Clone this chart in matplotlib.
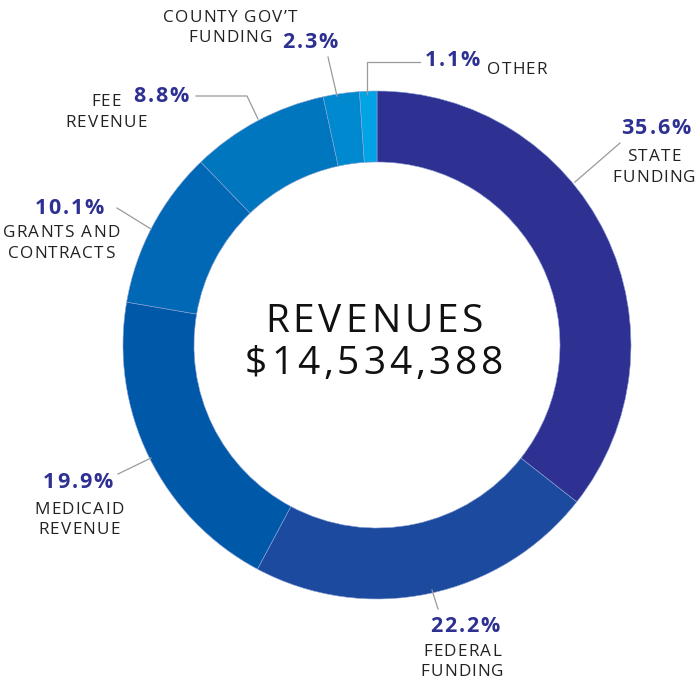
import matplotlib.pyplot as plt

labels = ["STATE\nFUNDING", "FEDERAL\nFUNDING", "MEDICAID\nREVENUE", "GRANTS AND\nCONTRACTS",
          "FEE\nREVENUE", "COUNTY GOV\u2019T\nFUNDING", "OTHER"]
shares = [35.6, 22.2, 19.9, 10.1, 8.8, 2.3, 1.1]
colors = ["#2E3192", "#1B4A9E", "#0058A9", "#0068B5", "#0076BF", "#0089CF", "#00A3E4"]
title = "REVENUES"
total = "$14,534,388"

W, H = 697, 683
fig = plt.figure(figsize=(W / 100, H / 100), dpi=100)
ax = fig.add_axes([0, 0, 1, 1])

def Y(py):
    return H - py

ax.pie(shares, colors=colors, startangle=90, counterclock=False,
       radius=254, center=(377, Y(345)), frame=True,
       wedgeprops=dict(width=71, linewidth=0.4, edgecolor='#8fa3d6'))
ax.set_xlim(0, W)
ax.set_ylim(0, H)
ax.set_aspect('equal')
ax.axis('off')

FONT = 'Open Sans'
renderer = fig.canvas.get_renderer()


def text_w(s, **kw):
    t = ax.text(0, 0, s, **kw)
    w = t.get_window_extent(renderer).width
    t.remove()
    return w


# text with extra letter spacing (the original font is wide and tracked)
def tracked(x, y, s, track, ha='center', **kw):
    xw = text_w('x', **kw)
    offs = [text_w(s[:i] + 'x', **kw) - xw + i * track for i in range(len(s))]
    total_w = text_w(s, **kw) + (len(s) - 1) * track
    if ha == 'center':
        x0 = x - total_w / 2
    elif ha == 'right':
        x0 = x - total_w
    else:
        x0 = x
    for ch, o in zip(s, offs):
        ax.text(x0 + o, y, ch, ha='left', va='center', **kw)


def tracked_lines(x, ys, s, track, ha='center', **kw):
    for line, y in zip(s.split('\n'), ys):
        tracked(x, y, line, track, ha=ha, **kw)


# center text
center_style = dict(fontsize=28, family=FONT, color='#111111')
tracked(374, Y(322), title, 4, **center_style)
tracked(374, Y(364), total, 3.8, **center_style)

pct_style = dict(fontsize=15.5, fontweight='bold', color='#2E3192', family=FONT)
name_style = dict(fontsize=12.3, color='#222222', family=FONT)
line_style = dict(color='#9a9a9a', lw=0.9)

pct = ["%.1f%%" % s for s in shares]
PT, NT = 1.8, 1.2

# state
ax.plot([575, 620], [Y(182), Y(143)], **line_style)
tracked(656, Y(129), pct[0], PT, **pct_style)
tracked_lines(654, [Y(157), Y(178)], labels[0], NT, **name_style)
# federal
ax.plot([432, 438], [Y(590), Y(609)], **line_style)
tracked(465, Y(627), pct[1], PT, **pct_style)
tracked_lines(462, [Y(652), Y(672)], labels[1], NT, **name_style)
# medicaid
ax.plot([118, 151], [Y(474), Y(458)], **line_style)
tracked(78, Y(482), pct[2], PT, **pct_style)
tracked_lines(79, [Y(510), Y(530)], labels[2], NT, **name_style)
# grants
ax.plot([117, 151], [Y(208), Y(229)], **line_style)
tracked(69, Y(208), pct[3], PT, **pct_style)
tracked_lines(61, [Y(233), Y(254)], labels[3], NT, **name_style)
# fee
ax.plot([196, 247, 258], [Y(96), Y(96), Y(119)], **line_style)
tracked(161, Y(97), pct[4], PT, **pct_style)
tracked_lines(106, [Y(102), Y(123)], labels[4], NT, **name_style)
# county
ax.plot([328, 337], [Y(57), Y(96)], **line_style)
tracked(310, Y(43), pct[5], PT, **pct_style)
county_top, county_bot = labels[5].split('\n')
tracked(163, Y(18), county_top, NT, ha='left', **name_style)
tracked(272, Y(38), county_bot, NT, ha='right', **name_style)
# other
ax.plot([420, 367, 367], [Y(62), Y(62), Y(94)], **line_style)
tracked(452, Y(60), pct[6], PT, **pct_style)
tracked(487, Y(70), labels[6], NT, ha='left', **name_style)

fig.savefig("out.png", dpi=100, facecolor='white')
